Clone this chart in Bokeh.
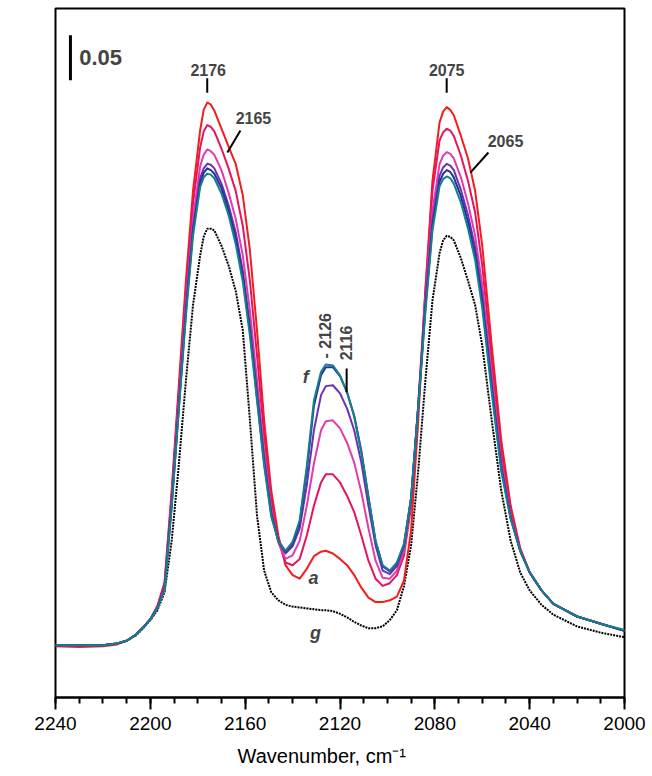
import math
from bokeh.plotting import figure
from bokeh.models import Range1d, SingleIntervalTicker, Label, Title
from bokeh.embed import file_html
from bokeh.resources import INLINE

# Wavenumber grid (cm-1)
wavenumber = [2240, 2230, 2220, 2214, 2210, 2206, 2203, 2200, 2197, 2194,
              2191, 2188, 2185, 2182, 2179, 2177.5, 2176, 2174.5, 2173, 2170, 2167, 2164,
              2161, 2158, 2155, 2152, 2149, 2146, 2143, 2140, 2137, 2134,
              2131, 2128, 2126, 2123, 2120, 2117, 2114, 2111, 2108, 2105,
              2102, 2099, 2096, 2093, 2090, 2087, 2084, 2081, 2078, 2076.5, 2075, 2073.5,
              2072, 2069, 2066, 2063, 2060, 2056, 2052, 2048, 2044, 2040,
              2035, 2030, 2020, 2010, 2000]

# Absorbance of spectra a..f and g
abs_a = [0.057, 0.056, 0.057, 0.059, 0.063, 0.070, 0.078, 0.087, 0.102, 0.128,
         0.230, 0.347, 0.463, 0.563, 0.630, 0.653, 0.661, 0.659, 0.652, 0.632, 0.612, 0.593,
         0.558, 0.497, 0.408, 0.308, 0.230, 0.180, 0.147, 0.136, 0.132, 0.143,
         0.157, 0.162, 0.163, 0.160, 0.154, 0.147, 0.136, 0.122, 0.111, 0.106,
         0.106, 0.108, 0.112, 0.130, 0.186, 0.308, 0.452, 0.574, 0.639, 0.651, 0.656, 0.653,
         0.647, 0.624, 0.599, 0.563, 0.502, 0.391, 0.286, 0.213, 0.166, 0.139,
         0.119, 0.104, 0.090, 0.082, 0.074]
abs_b = [0.058, 0.058, 0.058, 0.060, 0.063, 0.070, 0.078, 0.087, 0.101, 0.126,
         0.224, 0.339, 0.452, 0.549, 0.611, 0.629, 0.636, 0.634, 0.629, 0.610, 0.588, 0.563,
         0.524, 0.463, 0.380, 0.291, 0.221, 0.174, 0.150, 0.147, 0.154, 0.180,
         0.213, 0.239, 0.248, 0.248, 0.239, 0.224, 0.206, 0.180, 0.152, 0.132,
         0.124, 0.127, 0.136, 0.158, 0.213, 0.324, 0.452, 0.563, 0.619, 0.628, 0.632, 0.630,
         0.624, 0.602, 0.574, 0.539, 0.480, 0.374, 0.274, 0.208, 0.165, 0.139,
         0.119, 0.104, 0.090, 0.082, 0.074]
abs_c = [0.058, 0.058, 0.058, 0.060, 0.063, 0.070, 0.078, 0.087, 0.100, 0.123,
         0.219, 0.330, 0.439, 0.532, 0.590, 0.603, 0.609, 0.607, 0.603, 0.586, 0.561, 0.532,
         0.491, 0.430, 0.352, 0.274, 0.210, 0.172, 0.154, 0.158, 0.174, 0.213,
         0.260, 0.297, 0.307, 0.308, 0.299, 0.283, 0.261, 0.228, 0.188, 0.152,
         0.133, 0.132, 0.141, 0.163, 0.219, 0.324, 0.441, 0.541, 0.593, 0.602, 0.606, 0.604,
         0.599, 0.578, 0.549, 0.513, 0.458, 0.358, 0.263, 0.202, 0.164, 0.139,
         0.119, 0.104, 0.090, 0.082, 0.074]
abs_d = [0.058, 0.058, 0.058, 0.060, 0.063, 0.070, 0.078, 0.087, 0.100, 0.122,
         0.216, 0.324, 0.432, 0.522, 0.577, 0.588, 0.593, 0.592, 0.588, 0.571, 0.547, 0.517,
         0.474, 0.413, 0.339, 0.266, 0.206, 0.174, 0.160, 0.168, 0.188, 0.236,
         0.297, 0.336, 0.346, 0.347, 0.338, 0.321, 0.297, 0.261, 0.213, 0.169,
         0.141, 0.137, 0.146, 0.168, 0.221, 0.324, 0.436, 0.530, 0.580, 0.589, 0.593, 0.591,
         0.586, 0.564, 0.536, 0.500, 0.446, 0.349, 0.258, 0.200, 0.163, 0.139,
         0.119, 0.104, 0.090, 0.082, 0.074]
abs_e = [0.058, 0.058, 0.058, 0.060, 0.063, 0.070, 0.078, 0.087, 0.099, 0.121,
         0.213, 0.321, 0.428, 0.518, 0.571, 0.583, 0.588, 0.586, 0.582, 0.566, 0.541, 0.510,
         0.468, 0.408, 0.333, 0.261, 0.203, 0.174, 0.162, 0.171, 0.194, 0.252,
         0.324, 0.358, 0.367, 0.367, 0.357, 0.339, 0.313, 0.274, 0.223, 0.174,
         0.146, 0.140, 0.149, 0.170, 0.222, 0.323, 0.432, 0.524, 0.573, 0.582, 0.586, 0.584,
         0.578, 0.557, 0.528, 0.492, 0.439, 0.343, 0.254, 0.199, 0.163, 0.139,
         0.119, 0.104, 0.090, 0.082, 0.074]
abs_f = [0.058, 0.058, 0.058, 0.060, 0.063, 0.070, 0.078, 0.087, 0.099, 0.120,
         0.211, 0.319, 0.424, 0.513, 0.567, 0.578, 0.582, 0.581, 0.577, 0.560, 0.536, 0.504,
         0.462, 0.402, 0.330, 0.258, 0.201, 0.174, 0.163, 0.173, 0.197, 0.257,
         0.330, 0.362, 0.370, 0.369, 0.358, 0.339, 0.312, 0.272, 0.222, 0.174,
         0.147, 0.141, 0.150, 0.171, 0.222, 0.322, 0.428, 0.519, 0.568, 0.576, 0.579, 0.577,
         0.571, 0.550, 0.521, 0.486, 0.433, 0.339, 0.252, 0.198, 0.163, 0.139,
         0.119, 0.104, 0.090, 0.082, 0.075]
abs_g = [0.058, 0.057, 0.058, 0.060, 0.063, 0.069, 0.077, 0.086, 0.097, 0.117,
         0.174, 0.258, 0.352, 0.436, 0.491, 0.512, 0.521, 0.521, 0.519, 0.502, 0.480, 0.452,
         0.408, 0.308, 0.202, 0.141, 0.117, 0.108, 0.103, 0.101, 0.100, 0.099,
         0.098, 0.097, 0.097, 0.096, 0.093, 0.089, 0.084, 0.080, 0.077, 0.077,
         0.079, 0.086, 0.097, 0.124, 0.169, 0.252, 0.352, 0.441, 0.494, 0.508, 0.513, 0.512,
         0.508, 0.488, 0.463, 0.436, 0.391, 0.308, 0.230, 0.174, 0.139, 0.119,
         0.103, 0.092, 0.079, 0.072, 0.067]

series_names = ["a", "b", "c", "d", "e", "f"]
series_values = [abs_a, abs_b, abs_c, abs_d, abs_e, abs_f]
series_colors = ["#f41c1c", "#e6145e", "#e03caa", "#6e2fb8", "#23309e", "#14808a"]

x_ticks = [2240, 2200, 2160, 2120, 2080, 2040, 2000]
peak_labels = ["2176", "2165", "2075", "2065", "- 2126", "2116"]

FONT = "Liberation Sans"

p = figure(width=652, height=776, output_backend="svg", toolbar_location=None,
           x_range=Range1d(2240, 2000), y_range=Range1d(0.0, 0.7656),
           min_border_left=55, min_border_right=28, min_border_top=8,
           min_border_bottom=79)
p.background_fill_color = "white"
p.border_fill_color = "white"
p.outline_line_color = "black"
p.outline_line_width = 2
p.xgrid.visible = False
p.ygrid.visible = False
p.yaxis.visible = False

ax = p.xaxis[0]
ax.ticker = SingleIntervalTicker(interval=40, num_minor_ticks=4)
ax.axis_line_width = 2
ax.major_tick_line_width = 2
ax.minor_tick_line_width = 2
ax.major_tick_in = 0
ax.major_tick_out = 12
ax.minor_tick_in = 0
ax.minor_tick_out = 6
ax.major_label_standoff = 7
ax.major_label_text_font = FONT
ax.major_label_text_font_size = "19px"
ax.major_label_text_color = "black"

# x-axis title (placed below the axis, slightly left of centre as in the original)
xtitle = Title(text="Wavenumber, cm\u207b\u00b9", align="left", offset=182,
               text_font=FONT, text_font_size="20px", text_font_style="normal",
               text_color="black", standoff=20)
p.add_layout(xtitle, "below")

# spectra
p.line(wavenumber, abs_g, line_color="black", line_width=2, line_dash="2 1")
for vals, col in zip(series_values, series_colors):
    p.line(wavenumber, vals, line_color=col, line_width=2, line_join="round")

# scale bar 0.05
p.segment(x0=[2233.7], y0=[0.686], x1=[2233.7], y1=[0.736], line_color="black", line_width=3)
p.add_layout(Label(x=2230.0, y=0.711, text="0.05", text_font=FONT, text_font_size="22px",
                   text_font_style="bold", text_baseline="middle", text_align="left"))

# peak position marks
p.segment(x0=[2176, 2075], y0=[0.672, 0.672], x1=[2176, 2075], y1=[0.688, 0.688],
          line_color="black", line_width=2)
p.segment(x0=[2162.0, 2057.4, 2117.2], y0=[0.630, 0.6056, 0.339],
          x1=[2167.5, 2065.0, 2117.2], y1=[0.6056, 0.5833, 0.3656],
          line_color="black", line_width=2)

lab_pos = [(2175.6, 0.697, 0), (2156.5, 0.644, 0), (2075.0, 0.697, 0), (2050.2, 0.618, 0),
           (2126.1, 0.402, math.pi / 2), (2117.3, 0.394, math.pi / 2)]
for txt, (lx, ly, ang) in zip(peak_labels, lab_pos):
    p.add_layout(Label(x=lx, y=ly, text=txt, angle=ang, text_font=FONT, text_font_size="16px",
                       text_font_style="bold", text_align="center", text_baseline="middle"))

for txt, lx, ly in [("f", 2134.5, 0.3556), ("a", 2131.2, 0.1333), ("g", 2130.3, 0.0722)]:
    p.add_layout(Label(x=lx, y=ly, text=txt, text_font=FONT, text_font_size="18px",
                       text_font_style="bold italic", text_align="center", text_baseline="middle"))

# y axis title
p.add_layout(Label(x=2254.3, y=0.3967, text="Absorbance", angle=math.pi / 2, text_font=FONT,
                   text_font_size="24px", text_align="center", text_baseline="middle"))

open("out.html", "w").write(file_html(p, INLINE))
